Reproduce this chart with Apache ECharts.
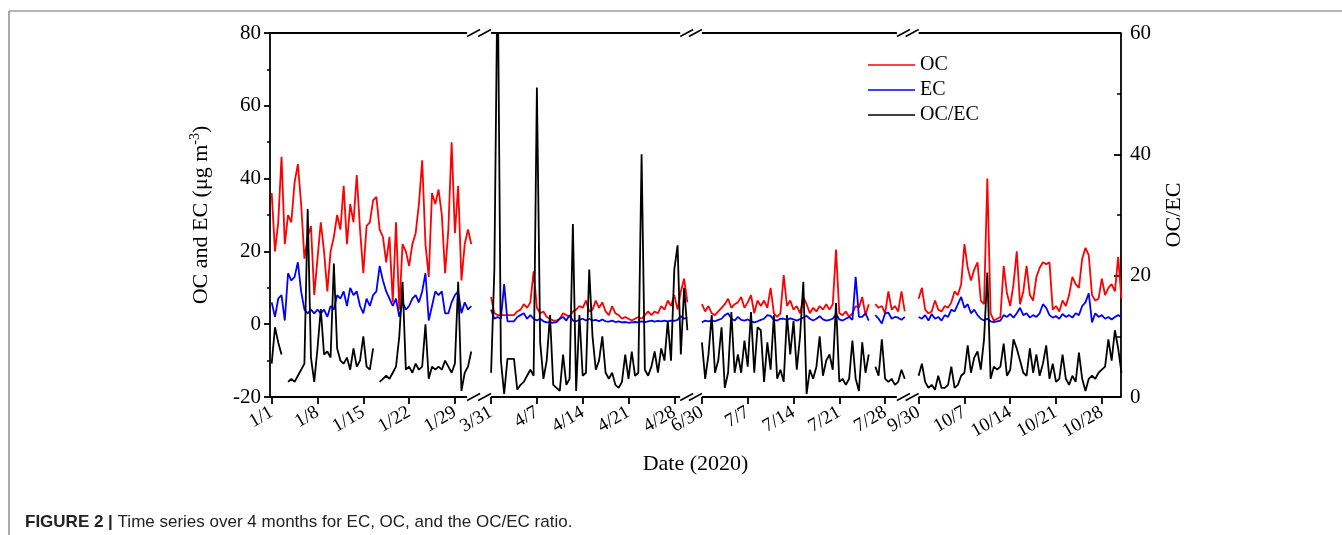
<!DOCTYPE html>
<html><head><meta charset="utf-8">
<script src="https://cdn.jsdelivr.net/npm/echarts@6/dist/echarts.min.js"></script>
<style>html,body{margin:0;padding:0;background:#fff}#c{width:1342px;height:535px}</style>
</head><body><div id="c"></div>
<script>
// ---- segment layout (days from 1/1 on the compressed axis) ----
const segStart = [0, 33.53, 65.75, 98.87];
const stepDays = 0.5;
const tickDays = [0, 7, 14, 21, 28];
const tickLabels = [
  ["1/1", "1/8", "1/15", "1/22", "1/29"],
  ["3/31", "4/7", "4/14", "4/21", "4/28"],
  ["6/30", "7/7", "7/14", "7/21", "7/28"],
  ["9/30", "10/7", "10/14", "10/21", "10/28"]
];

// ---- data, half-day steps from each segment start ----
const ocJan = [36,20,28,46,22,30,28,39,44,33,18,24,27,8,18,28,20,9,20,24,30,26,38,22,33,28,41,26,14,27,28,34,35,26,24,17,24,6,28,4,22,20,16,22,25,33,45,22,13,36,33,37,30,14,26,50,25,38,12,22,26,22];
const ecJan = [6,2,7,8,1,14,12,13,17,9,4,3,4,3,4,3,4,2,5,4,8,7,9,5,10,8,9,5,3,7,5,8,9,16,12,9,7,5,7,2,6,4,5,7,8,6,9,14,1,5,9,8,9,3,3,6,8,9,3,6,4,5];
const ratioJan = [5.5,11.5,9,7,null,2.5,3,2.5,3.5,4.5,5.5,31,6.5,2.5,8,14.5,7,7.5,6.5,22,8,6,5.5,6.5,4.5,8,5,6,10,5,4.5,8,null,2.5,3,3.5,3,4,5,10,19,4.5,5,4,5.5,4.5,5,12,3,5,4.5,5,4.5,6,5,4,5.5,19,1,4,5,7.5];

const ocApr = [7.5,3,2.5,2.5,2.5,2.5,2.5,2.5,3.5,4,5.5,4.5,6,14.5,4.5,3,3.5,2,1.5,1,1,1.5,3,2.5,2,3.5,4,5,4.5,6.5,3.5,4,6.5,4.5,6,3.5,2.5,5,3,2.5,1.5,2,1.5,1,1.5,2,1.5,2.5,3.5,2.5,3.5,3,5,4,6.5,5,8,4,9,12.5,6];
const ecApr = [4,1.5,2,1.5,11,0.8,0.8,0.8,2,2.5,3,1.5,2.5,1.5,1,1.5,0.8,0.5,0.5,0.4,0.6,1.5,2,1,2.5,1,0.8,1.2,1.5,1,1.5,1,1.2,0.8,1.3,0.8,0.7,1,0.6,0.8,0.5,0.6,0.4,0.5,0.6,0.5,0.8,0.6,0.8,1,0.7,0.9,0.8,1,0.8,1,0.9,1.2,2.2,1.5,1.8];
const ratioApr = [4,21,72,6,0.5,6.3,6.3,6.3,1.2,2,2.5,3.5,4.5,3.5,51,9,3,6,13.5,2,1.5,1,7,2,3,28.5,1,13.5,3.5,4,21,10,4.5,6,10,4,3,4,2,1.5,2.5,7,3,7.5,3.5,4,40,4.5,3.5,5,7.5,4,8,6,12.5,6,21,25,7,18,11];

const ocJul = [5.5,3.5,5,3,2.5,3.5,4.5,5.5,7,4.5,5.5,6,7.5,4.5,6,8,3,6.5,5,6.5,4.5,10,3,2,3,13.5,5,6.5,4,5,3,7.5,5.5,3,4.5,3.5,5,4,5.5,4,5.5,20.5,3,2.5,3.5,2,3,5,4.5,7.5,2.5,5.5,null,5.5,4.5,5,3,9,4,5,3.5,9,3.5];
const ecJul = [0.5,1,0.8,1,0.8,1.2,1.5,2.5,3,1.5,1,2,1.2,1,1.3,0.8,0.5,0.8,1.2,1.5,2.5,2.3,1.2,1,1.5,1.5,1.2,1.6,1.3,1,1.4,1.8,2.3,1.5,1,1.5,2.2,1.3,1,1.2,1.5,2.8,1.3,1,1.5,2,1.2,13,2,2,3,1,null,2.5,1.5,0.2,3,3.2,1.5,2,1.8,1.2,2];
const ratioJul = [9,3,7,13.5,4,6,11.5,1.5,4,14,4,7,4,9.3,5,14,4,11.5,11,2.5,9,4.5,13.5,3,4.5,2.5,13.5,7,12.5,4.5,10,19,0.5,4.5,3,5,10,3.5,6,7,4.5,15.5,2.5,3,2,3,9.3,3,1,9,4,7,null,5,3.5,9.5,3,2.5,3,2,2.5,4.5,3];

const ocOct = [7,10,4,3,3.5,6.5,4,3.5,5,4.5,6,9,8,11,22,15.5,12,15,17,6.5,5.5,40,3,1,1.5,2,16,8.5,5,11,20,5.5,9,16,8,6.5,13,15.5,17,16.5,17,4,5,3.5,6.5,5,8,13,11,10,18,21,19,8,6.5,7,12.5,8,10,11,9,18.5,7];
const ecOct = [2,1.5,2.5,1,2.8,1.5,2,1,2.5,2,4,3.5,5.5,7.5,4.5,5.5,3,4,2.5,1.5,1,1.5,0.8,0.6,0.8,1,2.5,2,2.8,1.8,3,4.5,2.5,3,1.8,2.5,2,3,5.5,4.5,2.5,1.8,2.2,1.5,2.8,2,2.5,1.8,3,2.5,5,6,8.5,0.5,3,2,2.5,1.5,2,1.3,2,2.5,2];
const ratioOct = [3.5,5.5,2.5,1.5,2,1.2,3.5,1.5,1.5,2,5,1.5,2,3.5,4,8.5,4,6.5,7.5,4.5,9.5,20.5,3,5,4.5,5,8.8,3.5,4.5,9.5,8,6,4,3.5,8,4,7,3.5,5.5,8.5,3,5.5,2.5,3,7,3,2,3.5,2.5,7.3,3,1,3,3.5,3,4,4.5,5,9.5,6,11,8,4];

// ---- layout constants ----
const X_MIN = -0.26, X_MAX = 129.8;
const frameEndDays = [29.86, 28.9, 29.8];

function build(segs) {
  const out = [];
  segs.forEach((a, k) => {
    a.forEach((v, i) => out.push([segStart[k] + i * stepDays, v]));
    if (k < segs.length - 1) out.push([segStart[k] + a.length * stepDays, null]);
  });
  return out;
}
const ocData = build([ocJan, ocApr, ocJul, ocOct]);
const ecData = build([ecJan, ecApr, ecJul, ecOct]);
const ratioData = build([ratioJan, ratioApr, ratioJul, ratioOct]);

const tickVals = [];
const labelMap = {};
segStart.forEach((s, k) => tickDays.forEach((d, j) => {
  const v = +(s + d).toFixed(2);
  tickVals.push(v);
  labelMap[v.toFixed(2)] = tickLabels[k][j];
}));

const serif = "'Liberation Serif','Times New Roman',serif";
const chart = echarts.init(document.getElementById('c'), null, {renderer: 'canvas'});

const option = {
  animation: false,
  backgroundColor: '#fff',
  title: {
    text: '{b|FIGURE 2 |} Time series over 4 months for EC, OC, and the OC/EC ratio.',
    left: 20, top: 509,
    textStyle: {
      fontFamily: 'Liberation Sans', fontSize: 17, fontWeight: 'normal', color: '#222',
      rich: {b: {fontFamily: 'Liberation Sans', fontSize: 17, fontWeight: 'bold', color: '#222'}}
    }
  },
  legend: {
    left: 863, top: 50, orient: 'vertical',
    icon: 'rect', itemWidth: 47, itemHeight: 1.6, itemGap: 5,
    textStyle: {fontFamily: serif, fontSize: 20, color: '#000', lineHeight: 20},
    data: ['OC', 'EC', 'OC/EC']
  },
  grid: {left: 270, right: 221, top: 33, bottom: 138, containLabel: false, outerBoundsMode: 'none'},
  xAxis: {
    type: 'value', min: X_MIN, max: X_MAX,
    name: 'Date (2020)', nameLocation: 'middle', nameGap: 56, nameMoveOverlap: false,
    nameTextStyle: {fontFamily: serif, fontSize: 22, color: '#000'},
    axisLine: {show: false, onZero: false},
    splitLine: {show: false},
    axisTick: {show: true, customValues: tickVals, length: 7, lineStyle: {color: '#000', width: 1.8}},
    axisLabel: {
      customValues: tickVals, rotate: 30, margin: 14,
      fontFamily: serif, fontSize: 19, color: '#000',
      formatter: v => labelMap[(+v).toFixed(2)] || ''
    }
  },
  yAxis: [
    {
      type: 'value', min: -20, max: 80, interval: 20, position: 'left',
      name: 'OC and EC (μg m{sup|-3})', nameLocation: 'middle', nameGap: 56, nameRotate: 90, nameMoveOverlap: false,
      nameTextStyle: {fontFamily: serif, fontSize: 22, color: '#000',
        rich: {sup: {fontFamily: serif, fontSize: 14, color: '#000', padding: [0, 0, 12, 0]}}},
      axisLine: {show: true, onZero: false, lineStyle: {color: '#000', width: 1.8}},
      axisTick: {show: true, inside: false, length: 6, lineStyle: {color: '#000', width: 1.8}},
      minorTick: {show: true, splitNumber: 2, length: 3, lineStyle: {color: '#000', width: 1.5}},
      splitLine: {show: false},
      axisLabel: {margin: 9, fontFamily: serif, fontSize: 21, color: '#000'}
    },
    {
      type: 'value', min: 0, max: 60, interval: 20, position: 'right',
      name: 'OC/EC', nameLocation: 'middle', nameGap: 42, nameRotate: 90, nameMoveOverlap: false,
      nameTextStyle: {fontFamily: serif, fontSize: 22, color: '#000'},
      axisLine: {show: true, onZero: false, lineStyle: {color: '#000', width: 1.8}},
      axisTick: {show: true, inside: true, length: 7, lineStyle: {color: '#000', width: 1.8}},
      minorTick: {show: true, splitNumber: 2, length: 4, lineStyle: {color: '#000', width: 1.5}},
      splitLine: {show: false},
      axisLabel: {margin: 9, fontFamily: serif, fontSize: 21, color: '#000'}
    }
  ],
  series: [
    {name: 'OC', type: 'line', yAxisIndex: 0, data: ocData, symbol: 'none', connectNulls: false,
      lineStyle: {color: '#ff0000', width: 1.8}, itemStyle: {color: '#ff0000'}, z: 2},
    {name: 'EC', type: 'line', yAxisIndex: 0, data: ecData, symbol: 'none', connectNulls: false,
      lineStyle: {color: '#0000ff', width: 1.8}, itemStyle: {color: '#0000ff'}, z: 3},
    {name: 'OC/EC', type: 'line', yAxisIndex: 1, data: ratioData, symbol: 'none', connectNulls: false,
      lineStyle: {color: '#000000', width: 1.8}, itemStyle: {color: '#000000'}, z: 4}
  ]
};
chart.setOption(option);

// ---- broken frame (top/bottom borders with // marks) ----
const px = v => chart.convertToPixel({xAxisIndex: 0}, v);
const yTop = chart.convertToPixel({yAxisIndex: 0}, 80);
const yBot = chart.convertToPixel({yAxisIndex: 0}, -20);
const frames = segStart.map((s, k) => [
  k === 0 ? X_MIN : s,
  k === segStart.length - 1 ? X_MAX : s + frameEndDays[k]
]);
const g = [];
const lineEl = (x1, y1, x2, y2, w, c) => ({type: 'line', silent: true, z: 100,
  shape: {x1, y1, x2, y2}, style: {stroke: c || '#000', lineWidth: w || 1.8}});
frames.forEach(([a, b]) => {
  [yTop, yBot].forEach(y => g.push(lineEl(px(a), y, px(b), y)));
});
for (let k = 0; k < frames.length - 1; k++) {
  const pe = px(frames[k][1]), ps = px(frames[k + 1][0]);
  [yTop, yBot].forEach(y => {
    g.push(lineEl(pe, y + 3.5, pe + 13, y - 3.5, 1.5));
    g.push(lineEl(ps - 13, y + 3.5, ps, y - 3.5, 1.5));
  });
}
// page border lines
g.push(lineEl(9, 11, 1342, 11, 1.2, '#6e6e6e'));
g.push(lineEl(9, 11, 9, 535, 1.2, '#6e6e6e'));
chart.setOption({graphic: g});
</script>
</body></html>
